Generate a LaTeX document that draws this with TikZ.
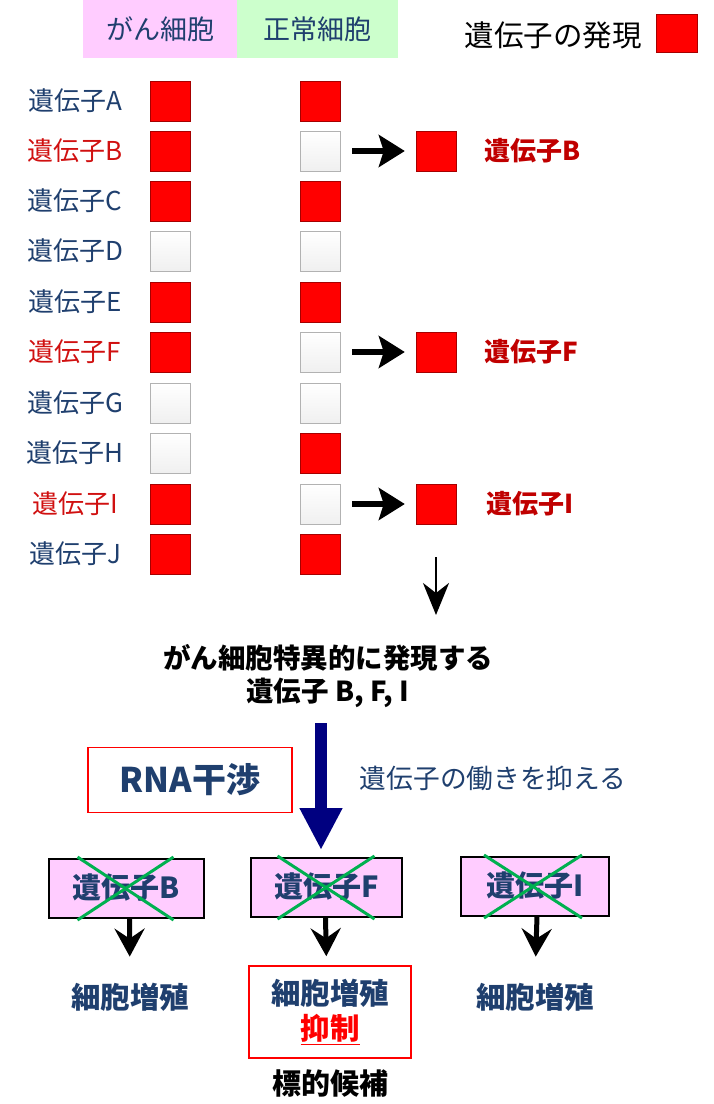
\documentclass[tikz,border=0pt]{standalone}
\usepackage{fontspec}
\setmainfont{Noto Sans CJK JP}
\usepackage{tikz}
\usetikzlibrary{arrows.meta,calc,positioning}
\definecolor{labelblue}{HTML}{1F3F6E}
\definecolor{hitred}{HTML}{D01010}
\definecolor{darkred}{HTML}{C00000}
\definecolor{pinkfill}{HTML}{FFCCFF}
\definecolor{greenfill}{HTML}{CCFFCC}
\definecolor{crossgreen}{HTML}{00B050}
\definecolor{arrownavy}{HTML}{000080}

\begin{document}
\begin{tikzpicture}[
        %We set the units to pixels and define some styles
        x=1pt, y=-1pt,
        on box/.style={draw=red!65!black, fill=red, minimum width=40pt, minimum height=40pt, inner sep=0pt},
        off box/.style={draw=gray!60, top color=white, bottom color=gray!12, minimum width=40pt, minimum height=40pt, inner sep=0pt},
        gene label/.style={text=labelblue, font=\fontsize{26}{30}\selectfont},
        hit label/.style={gene label, text=hitred},
        hit name/.style={text=darkred, font=\bfseries\fontsize{26}{30}\selectfont},
        head cell/.style={text=labelblue, minimum height=58pt, font=\fontsize{27}{31}\selectfont},
        fat arrow/.style={line width=6pt, -{Stealth[length=26pt,width=32pt,inset=5pt]}},
        thin arrow/.style={line width=2.5pt, -{Stealth[length=32pt,width=26pt,inset=10pt]}},
        short arrow/.style={line width=5pt, -{Stealth[length=28pt,width=30pt,inset=10pt]}},
        kill box/.style={draw=black, line width=2pt, fill=pinkfill, minimum height=59pt, text=labelblue, font=\bfseries\fontsize{29}{33}\selectfont},
        cross line/.style={crossgreen, line width=3pt},
        result/.style={text=labelblue, font=\bfseries\fontsize{29.5}{35}\selectfont, align=center},
        every node/.style={inner sep=3pt}
    ]
    \useasboundingbox (0,0) rectangle (713,1104);

    % Header
    \node[head cell, fill=pinkfill, minimum width=155pt] (hcancer) at (160,29) {がん細胞};
    \node[head cell, fill=greenfill, minimum width=161pt] (hnormal) at (317.5,29) {正常細胞};
    \node[font=\fontsize{29.5}{33}\selectfont] (legend) at (553,35) {遺伝子の発現};
    \node[on box, minimum width=41pt, minimum height=38pt] (legend box) at (676.5,33) {};

    % Genes: cancer cell / normal cell
    \node[gene label] (lA) at (75,101) {遺伝子A};
    \node[on box] (cA) at (170,101) {};
    \node[on box] (nA) at (320,101) {};

    \node[hit label] (lB) at (75,151) {遺伝子B};
    \node[on box] (cB) at (170,151) {};
    \node[off box] (nB) at (320,151) {};

    \node[gene label] (lC) at (75,201) {遺伝子C};
    \node[on box] (cC) at (170,201) {};
    \node[on box] (nC) at (320,201) {};

    \node[gene label] (lD) at (75,251) {遺伝子D};
    \node[off box] (cD) at (170,251) {};
    \node[off box] (nD) at (320,251) {};

    \node[gene label] (lE) at (75,302) {遺伝子E};
    \node[on box] (cE) at (170,302) {};
    \node[on box] (nE) at (320,302) {};

    \node[hit label] (lF) at (75,352) {遺伝子F};
    \node[on box] (cF) at (170,352) {};
    \node[off box] (nF) at (320,352) {};

    \node[gene label] (lG) at (75,403) {遺伝子G};
    \node[off box] (cG) at (170,403) {};
    \node[off box] (nG) at (320,403) {};

    \node[gene label] (lH) at (75,453) {遺伝子H};
    \node[off box] (cH) at (170,453) {};
    \node[on box] (nH) at (320,453) {};

    \node[hit label] (lI) at (75,504) {遺伝子I};
    \node[on box] (cI) at (170,504) {};
    \node[off box] (nI) at (320,504) {};

    \node[gene label] (lJ) at (75,554) {遺伝子J};
    \node[on box] (cJ) at (170,554) {};
    \node[on box] (nJ) at (320,554) {};

    % Genes only in the cancer cell
    \node[on box] (rB) at (436,151) {};
    \node[on box] (rF) at (436,352) {};
    \node[on box] (rI) at (436,504) {};
    \node[hit name, right=25pt of rB] (tB) {遺伝子B};
    \node[hit name, right=25pt of rF] (tF) {遺伝子F};
    \node[hit name, right=27pt of rI] (tI) {遺伝子I};
    \draw[fat arrow, shorten <=12pt, shorten >=11pt] (nB) -- (rB);
    \draw[fat arrow, shorten <=12pt, shorten >=11pt] (nF) -- (rF);
    \draw[fat arrow, shorten <=12pt, shorten >=11pt] (nI) -- (rI);

    % Summary
    \coordinate (down end) at (436,615);
    \draw[thin arrow, shorten <=33pt] (rI.south) -- (down end);
    \node[font=\bfseries\fontsize{27.5}{33}\selectfont, align=center] (spec) at (328,676) {がん細胞特異的に発現する\\遺伝子 B, F, I};

    % RNA interference
    \node[draw=red, line width=1.5pt, minimum width=204pt, minimum height=65pt, text=labelblue, font=\bfseries\fontsize{34}{38}\selectfont] (rna) at (190,780) {RNA干渉};
    \node[text=labelblue, font=\fontsize{26.7}{30}\selectfont] (suppress) at (493,778) {遺伝子の働きを抑える};
    \coordinate (rna top) at (321,723);
    \coordinate (rna tip) at (321,850);
    \draw[arrownavy, line width=12pt, -{Triangle[length=42pt,width=40pt]}] (rna top) -- (rna tip);

    % Knocked down genes
    \node[kill box, minimum width=155pt] (kB) at (126.5,888) {遺伝子B};
    \node[kill box, minimum width=151pt] (kF) at (326.5,887) {遺伝子F};
    \node[kill box, minimum width=148pt] (kI) at (535,886) {遺伝子I};
    \draw[cross line] ($(kB)+(-49,-31)$) -- ($(kB)+(47,32)$);
    \draw[cross line] ($(kB)+(47,-31)$) -- ($(kB)+(-49,32)$);
    \draw[cross line] ($(kF)+(-49,-31)$) -- ($(kF)+(48,32)$);
    \draw[cross line] ($(kF)+(48,-31)$) -- ($(kF)+(-49,32)$);
    \draw[cross line] ($(kI)+(-51,-31)$) -- ($(kI)+(47,32)$);
    \draw[cross line] ($(kI)+(47,-31)$) -- ($(kI)+(-51,32)$);

    % Cell growth
    \node[result] (pB) at (130,997) {細胞増殖};
    \node[draw=red, line width=1.5pt, minimum width=162pt, minimum height=92pt, result] (pF) at (330,1012) {細胞増殖\\\textcolor{red}{\underline{抑制}}};
    \node[result] (pI) at (535,997) {細胞増殖};
    \node[font=\bfseries\fontsize{29}{33}\selectfont, below=8pt of pF] (target) {標的候補};
    \draw[short arrow, shorten >=23pt] ($(kB.south)+(3,0)$) -- (pB);
    \draw[short arrow, shorten >=9pt] ($(kF.south)+(-1,0)$) -- (pF.north -| kF.south);
    \draw[short arrow, shorten >=23pt] ($(kI.south)+(2,0)$) -- (pI.north);
\end{tikzpicture}
\end{document}
